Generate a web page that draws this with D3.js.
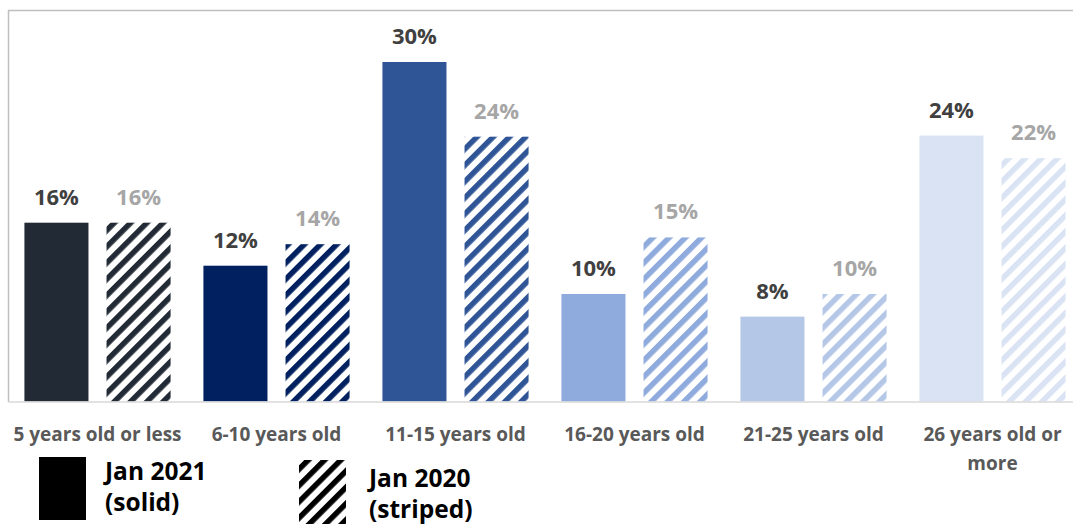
<!DOCTYPE html>
<html>
<head>
<meta charset="utf-8">
<script src="https://cdn.jsdelivr.net/npm/d3@7"></script>
<style>
  body { margin: 0; background: #fff; }
  text { font-family: "Open Sans", sans-serif; font-weight: 700; }
</style>
</head>
<body>
<div id="chart"></div>
<script>
// Chart data
const categories = ["5 years old or less", "6-10 years old", "11-15 years old",
                    "16-20 years old", "21-25 years old", "26 years old or more"];
const series = ["Jan 2021", "Jan 2020"];
const jan2021 = [15.8, 12.0, 30.0, 9.5, 7.5, 23.5];
const jan2020 = [15.8, 13.9, 23.4, 14.5, 9.5, 21.5];
const labels2021 = ["16%", "12%", "30%", "10%", "8%", "24%"];
const labels2020 = ["16%", "14%", "24%", "15%", "10%", "22%"];
const groupColors = ["#222a35", "#002060", "#2f5597", "#8faadc", "#b4c7e7", "#dae3f3"];

const width = 1073, height = 524;

const svg = d3.select("#chart").append("svg")
    .attr("width", width)
    .attr("height", height);

// Scales
const x0 = d3.scaleBand().domain(categories).range([8, 1082]).padding(0);
const x1 = d3.scaleBand().domain(series).range([0, x0.bandwidth()])
    .paddingInner(0.22).paddingOuter(0.2);
const y = d3.scaleLinear().domain([0, 30]).range([401.5, 62]);

// Stripe patterns, one per group colour
const defs = svg.append("defs");
function stripe(id, color) {
    const p = defs.append("pattern")
        .attr("id", id)
        .attr("patternUnits", "userSpaceOnUse")
        .attr("width", 11.5)
        .attr("height", 11.5)
        .attr("patternTransform", "rotate(45)");
    p.append("rect").attr("width", 11.5).attr("height", 11.5).attr("fill", "#fff");
    p.append("rect").attr("width", 5.5).attr("height", 11.5).attr("fill", color);
}
groupColors.forEach((c, i) => stripe("stripe" + i, c));
stripe("stripeLegend", "#000");

// Frame lines
svg.append("line")
    .attr("x1", 8).attr("x2", width).attr("y1", 10.5).attr("y2", 10.5)
    .attr("stroke", "#bfbfbf").attr("stroke-width", 1.5);
svg.append("line")
    .attr("x1", 8.5).attr("x2", 8.5).attr("y1", 10).attr("y2", 402)
    .attr("stroke", "#bfbfbf").attr("stroke-width", 1.5);

// Bars
const rows = categories.map((c, i) => ({
    cat: c, i: i,
    vals: [
        { key: "Jan 2021", v: jan2021[i], label: labels2021[i] },
        { key: "Jan 2020", v: jan2020[i], label: labels2020[i] }
    ]
}));

const group = svg.selectAll("g.group")
    .data(rows)
  .enter().append("g")
    .attr("class", "group")
    .attr("transform", d => "translate(" + x0(d.cat) + ",0)");

group.selectAll("rect")
    .data(d => d.vals.map(v => Object.assign({ i: d.i }, v)))
  .enter().append("rect")
    .attr("x", d => x1(d.key))
    .attr("y", d => y(d.v))
    .attr("width", x1.bandwidth())
    .attr("height", d => y(0) - y(d.v))
    .attr("fill", d => d.key === "Jan 2021" ? groupColors[d.i] : "url(#stripe" + d.i + ")");

group.selectAll("text.value")
    .data(d => d.vals)
  .enter().append("text")
    .attr("class", "value")
    .attr("x", d => x1(d.key) + x1.bandwidth() / 2)
    .attr("y", d => y(d.v) - 18)
    .attr("text-anchor", "middle")
    .style("font-size", "22px")
    .attr("fill", d => d.key === "Jan 2021" ? "#404040" : "#a6a6a6")
    .text(d => d.label);

// Category axis
const axis = svg.append("g")
    .attr("transform", "translate(0," + y(0) + ")")
    .call(d3.axisBottom(x0).tickSize(0).tickPadding(0));
axis.select(".domain").attr("stroke", "#d9d9d9").attr("stroke-width", 1.5);
axis.selectAll(".tick text")
    .attr("y", 39.5)
    .attr("dy", 0)
    .style("font-size", "19px")
    .style("font-family", "'Open Sans', sans-serif")
    .attr("fill", "#595959")
    .call(wrap, 178);

// Wrap long tick labels onto two lines
function wrap(texts, maxWidth) {
    texts.each(function() {
        const text = d3.select(this);
        const words = text.text().split(/\s+/);
        const yy = text.attr("y");
        text.text(null);
        let line = [];
        let lineNo = 0;
        let tspan = text.append("tspan").attr("x", 0).attr("y", yy);
        words.forEach(w => {
            line.push(w);
            tspan.text(line.join(" "));
            if (tspan.node().getComputedTextLength() > maxWidth && line.length > 1) {
                line.pop();
                tspan.text(line.join(" "));
                line = [w];
                lineNo++;
                tspan = text.append("tspan").attr("x", 0).attr("y", +yy + lineNo * 28.5).text(w);
            }
        });
    });
}

// Legend
const legend = [
    { fill: "#000", box: [39, 457, 47, 63], tx: 105, lines: ["Jan 2021", "(solid)"], ty: 480 },
    { fill: "url(#stripeLegend)", box: [299, 460, 47, 64], tx: 369, lines: ["Jan 2020", "(striped)"], ty: 487 }
];
const lg = svg.selectAll("g.legend")
    .data(legend)
  .enter().append("g")
    .attr("class", "legend");
lg.append("rect")
    .attr("x", d => d.box[0]).attr("y", d => d.box[1])
    .attr("width", d => d.box[2]).attr("height", d => d.box[3])
    .attr("fill", d => d.fill);
lg.append("text")
    .attr("x", d => d.tx)
    .attr("y", d => d.ty)
    .style("font-size", "24.5px")
    .attr("fill", "#000")
    .selectAll("tspan")
    .data(d => d.lines.map((l, k) => ({ l: l, k: k, x: d.tx, y: d.ty })))
  .enter().append("tspan")
    .attr("x", d => d.x)
    .attr("y", d => d.y + d.k * 31)
    .text(d => d.l);
</script>
</body>
</html>
